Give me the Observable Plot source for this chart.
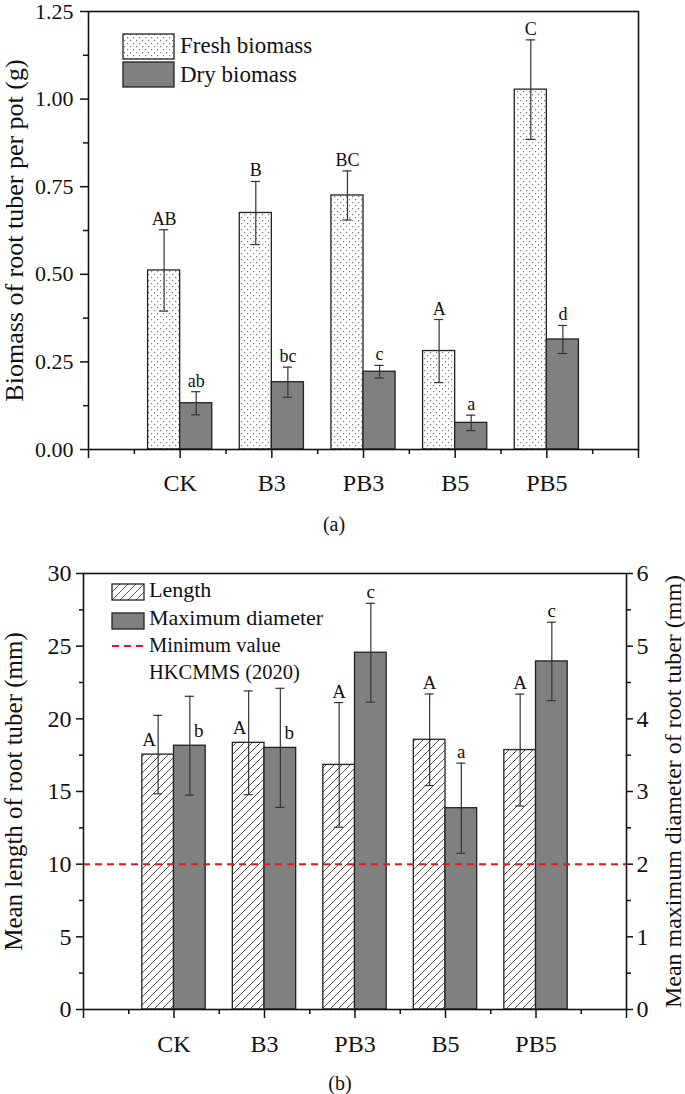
<!DOCTYPE html>
<html><head><meta charset="utf-8">
<script src="https://cdn.jsdelivr.net/npm/d3@7"></script>
<script src="https://cdn.jsdelivr.net/npm/@observablehq/plot@0.6"></script>
<style>
body{margin:0;background:#fff;font-family:"Liberation Serif",serif;}
#page{position:relative;width:685px;height:1094px;overflow:hidden;background:#fff;}
.panel{position:absolute;left:0;}
.overlay{position:absolute;left:0;top:0;pointer-events:none;font-family:"Liberation Serif",serif;}
.overlay text{font-family:"Liberation Serif",serif;fill:#111;}
</style></head><body>
<svg width="0" height="0" style="position:absolute">
<defs>
<pattern id="dots" width="6" height="6" patternUnits="userSpaceOnUse">
<rect width="6" height="6" fill="#fff"/>
<rect x="1" y="1" width="1.2" height="1.2" fill="#777"/>
<rect x="4" y="4" width="1.2" height="1.2" fill="#777"/>
</pattern>
<pattern id="hatch" width="8" height="8" patternUnits="userSpaceOnUse">
<rect width="8" height="8" fill="#fff"/>
<path d="M-2,2 L2,-2 M0,8 L8,0 M6,10 L10,6" stroke="#555" stroke-width="1"/>
</pattern>
</defs></svg>
<div id="page"></div>
<script>
// ---------- data ----------
const categories = ["CK", "B3", "PB3", "B5", "PB5"];

// panel (a)
const freshBiomass = [0.511, 0.675, 0.725, 0.281, 1.027];
const freshErr     = [0.116, 0.090, 0.070, 0.090, 0.142];
const freshLetters = ["AB", "B", "BC", "A", "C"];
const dryBiomass   = [0.132, 0.192, 0.222, 0.076, 0.314];
const dryErr       = [0.033, 0.043, 0.018, 0.022, 0.040];
const dryLetters   = ["ab", "bc", "c", "a", "d"];
const biomassTicks = [0, 0.25, 0.5, 0.75, 1.0, 1.25];

// panel (b)
const tuberLength     = [17.54, 18.35, 16.83, 18.56, 17.85];
const lengthErr       = [2.70, 3.57, 4.29, 3.15, 3.85];
const lengthLetters   = ["A", "A", "A", "A", "A"];
const maxDiameter     = [3.63, 3.60, 4.91, 2.77, 4.79];
const diameterErr     = [0.68, 0.82, 0.68, 0.62, 0.54];
const diameterLetters = ["b", "b", "c", "a", "c"];
const lengthTicks     = [0, 5, 10, 15, 20, 25, 30];
const diameterTicks   = [0, 1, 2, 3, 4, 5, 6];
const minimumLength   = 10; // Minimum value, HKCMMS (2020)

const legendA = ["Fresh biomass", "Dry biomass"];
const legendB = ["Length", "Maximum diameter", "Minimum value", "HKCMMS (2020)"];

// ---------- helpers ----------
const FONT = "'Liberation Serif', serif";
const INK = "#111";
const BAR_W = 0.35;
const positions = categories.map((_, i) => i + 1);
const xDomain = [0, categories.length + 1];
const majorX = d3.range(xDomain[0], xDomain[1] + 1);
const minorX = d3.range(xDomain[0] + 0.5, xDomain[1], 1);
const half = (t) => (t[1] - t[0]) / 2;

function barMarks(rows, fill, cap, letterSize) {
  const above = rows.filter(d => !d.beside);
  const beside = rows.filter(d => d.beside);
  return [
    Plot.rect(rows, {x1: "x1", x2: "x2", y1: 0, y2: "v", fill, stroke: "#222", strokeWidth: 1.3}),
    Plot.ruleX(rows, {x: "xc", y1: d => d.v - d.e, y2: d => d.v + d.e, stroke: "#333", strokeWidth: 1.2}),
    Plot.ruleY(rows.flatMap(d => [{...d, y: d.v + d.e}, {...d, y: d.v - d.e}]),
      {x1: d => d.xc - cap, x2: d => d.xc + cap, y: "y", stroke: "#333", strokeWidth: 1.2}),
    Plot.text(above, {x: "xc", y: d => d.v + d.e, text: "l", lineAnchor: "bottom", dy: -5,
      fontSize: letterSize, fill: INK}),
    Plot.text(beside, {x: "xc", y: "v", text: "l", lineAnchor: "bottom", dy: -9,
      dx: beside.length && beside[0].left ? -9 : 9, fontSize: letterSize, fill: INK})
  ];
}
function rows(values, errs, letters, left, besideFlags) {
  return values.map((v, i) => {
    const x1 = left ? positions[i] - BAR_W : positions[i];
    const x2 = left ? positions[i] : positions[i] + BAR_W;
    return {x1, x2, xc: (x1 + x2) / 2, v, e: errs[i], l: letters[i], left,
      beside: besideFlags ? besideFlags[i] : false};
  });
}

const page = document.getElementById("page");

// ---------- panel (a) ----------
const plotA = Plot.plot({
  width: 685, height: 500,
  marginTop: 11, marginBottom: 51, marginLeft: 88, marginRight: 47,
  style: {fontFamily: FONT, color: INK, background: "transparent", overflow: "visible"},
  x: {domain: xDomain},
  y: {domain: [biomassTicks[0], biomassTicks[biomassTicks.length - 1]]},
  marks: [
    ...barMarks(rows(freshBiomass, freshErr, freshLetters, true), "url(#dots)", 0.05, 18),
    ...barMarks(rows(dryBiomass, dryErr, dryLetters, false), "#808080", 0.05, 18),
    Plot.axisY({ticks: biomassTicks, tickFormat: d3.format(".2f"), tickSize: 8, tickPadding: 7,
      fontSize: 22, strokeWidth: 1.5, label: null}),
    Plot.axisY({ticks: d3.range(half(biomassTicks), biomassTicks[biomassTicks.length - 1], 2 * half(biomassTicks)),
      tickFormat: () => "", tickSize: 5, strokeWidth: 1.5, label: null}),
    Plot.axisX({ticks: majorX, tickFormat: () => "", tickSize: 9, strokeWidth: 1.5, label: null}),
    Plot.axisX({ticks: minorX, tickFormat: () => "", tickSize: 5, strokeWidth: 1.5, label: null}),
    Plot.axisX({ticks: positions, tickFormat: p => categories[p - 1], tickSize: 0, tickPadding: 24,
      fontSize: 24, label: null}),
    Plot.frame({stroke: INK, strokeWidth: 1.6}),
    Plot.text(["Biomass of root tuber per pot (g)"], {frameAnchor: "left", textAnchor: "middle",
      rotate: -90, dx: -74, fontSize: 26, fill: INK})
  ]
});
plotA.classList.add("panel");
plotA.style.top = "0px";
page.appendChild(plotA);

// ---------- panel (b) ----------
const B = {top: 555, width: 685, height: 500, mt: 18, mb: 46, ml: 83, mr: 59};
const legendBoxB = {x1: 112, x2: 329, y2: 683}; // page pixels of legend (b)
const ratio = lengthTicks[lengthTicks.length - 1] / diameterTicks[diameterTicks.length - 1];
const yPx = v => B.top + B.mt + (1 - v / lengthTicks[lengthTicks.length - 1]) * (B.height - B.mt - B.mb);
const xPx = p => B.ml + (p - xDomain[0]) / (xDomain[1] - xDomain[0]) * (B.width - B.ml - B.mr);
// letters that would run into the legend are set beside the bar, as in the original figure
const besideB = positions.map((p, i) => {
  const top = Math.max(tuberLength[i] + lengthErr[i], (maxDiameter[i] + diameterErr[i]) * ratio);
  const cx = xPx(p);
  return cx > legendBoxB.x1 && cx < legendBoxB.x2 && yPx(top) - 24 < legendBoxB.y2;
});

const plotB = Plot.plot({
  width: B.width, height: B.height,
  marginTop: B.mt, marginBottom: B.mb, marginLeft: B.ml, marginRight: B.mr,
  style: {fontFamily: FONT, color: INK, background: "transparent", overflow: "visible"},
  x: {domain: xDomain},
  y: {domain: [lengthTicks[0], lengthTicks[lengthTicks.length - 1]]},
  marks: [
    ...barMarks(rows(tuberLength, lengthErr, lengthLetters, true, besideB), "url(#hatch)", 0.05, 19),
    ...barMarks(rows(maxDiameter.map(d => d * ratio), diameterErr.map(d => d * ratio), diameterLetters, false, besideB),
      "#808080", 0.05, 19),
    Plot.ruleY([minimumLength], {stroke: "#e8141c", strokeWidth: 2, strokeDasharray: "7,5"}),
    Plot.axisY({ticks: lengthTicks, tickSize: 7, tickPadding: 5, fontSize: 24, strokeWidth: 1.5, label: null}),
    Plot.axisY({ticks: d3.range(half(lengthTicks), lengthTicks[lengthTicks.length - 1], 2 * half(lengthTicks)),
      tickFormat: () => "", tickSize: 4, strokeWidth: 1.5, label: null}),
    Plot.axisY({anchor: "right", ticks: diameterTicks.map(d => d * ratio), tickFormat: d => d / ratio,
      tickSize: 6, tickPadding: 4, fontSize: 24, strokeWidth: 1.5, label: null}),
    Plot.axisY({anchor: "right", ticks: d3.range(half(diameterTicks), diameterTicks[diameterTicks.length - 1], 2 * half(diameterTicks)).map(d => d * ratio),
      tickFormat: () => "", tickSize: 4, strokeWidth: 1.5, label: null}),
    Plot.axisX({ticks: majorX, tickFormat: () => "", tickSize: 9, strokeWidth: 1.5, label: null}),
    Plot.axisX({ticks: minorX, tickFormat: () => "", tickSize: 5, strokeWidth: 1.5, label: null}),
    Plot.axisX({ticks: positions, tickFormat: p => categories[p - 1], tickSize: 0, tickPadding: 25,
      fontSize: 24, label: null}),
    Plot.frame({stroke: INK, strokeWidth: 1.6}),
    Plot.text(["Mean length of root tuber (mm)"], {frameAnchor: "left", textAnchor: "middle",
      rotate: -90, dx: -70, fontSize: 25, fill: INK}),
    Plot.text(["Mean maximum diameter of root tuber (mm)"], {frameAnchor: "right", textAnchor: "middle",
      rotate: -90, dx: 47, fontSize: 24, fill: INK})
  ]
});
plotB.classList.add("panel");
plotB.style.top = B.top + "px";
page.appendChild(plotB);

// ---------- legends & captions (overlay) ----------
const ov = d3.select(page).append("svg").attr("class", "overlay")
  .attr("width", 685).attr("height", 1094);
const txt = (x, y, size, s, anchor = "start") => ov.append("text").attr("x", x).attr("y", y)
  .style("font-family", FONT).attr("font-size", size)
  .attr("text-anchor", anchor).text(s);

// legend (a)
ov.append("rect").attr("x", 123).attr("y", 34).attr("width", 51).attr("height", 25)
  .attr("fill", "url(#dots)").attr("stroke", "#222").attr("stroke-width", 1.3);
ov.append("rect").attr("x", 123).attr("y", 62).attr("width", 51).attr("height", 25)
  .attr("fill", "#808080").attr("stroke", "#222").attr("stroke-width", 1.3);
txt(180, 53, 23, legendA[0]);
txt(180, 82, 23, legendA[1]);

// legend (b)
ov.append("rect").attr("x", 112).attr("y", 584).attr("width", 32).attr("height", 16)
  .attr("fill", "url(#hatch)").attr("stroke", "#222").attr("stroke-width", 1.3);
ov.append("rect").attr("x", 112).attr("y", 613).attr("width", 32).attr("height", 16)
  .attr("fill", "#808080").attr("stroke", "#222").attr("stroke-width", 1.3);
ov.append("line").attr("x1", 112).attr("x2", 144).attr("y1", 646).attr("y2", 646)
  .attr("stroke", "#e8141c").attr("stroke-width", 2).attr("stroke-dasharray", "7,5");
txt(149, 597, 22, legendB[0]);
txt(149, 625, 22, legendB[1]);
txt(149, 652, 20.5, legendB[2]);
txt(149, 679, 20.5, legendB[3]);

// captions
txt(334, 531, 20, "(a)", "middle");
txt(340, 1090, 20, "(b)", "middle");
</script>
</body></html>
